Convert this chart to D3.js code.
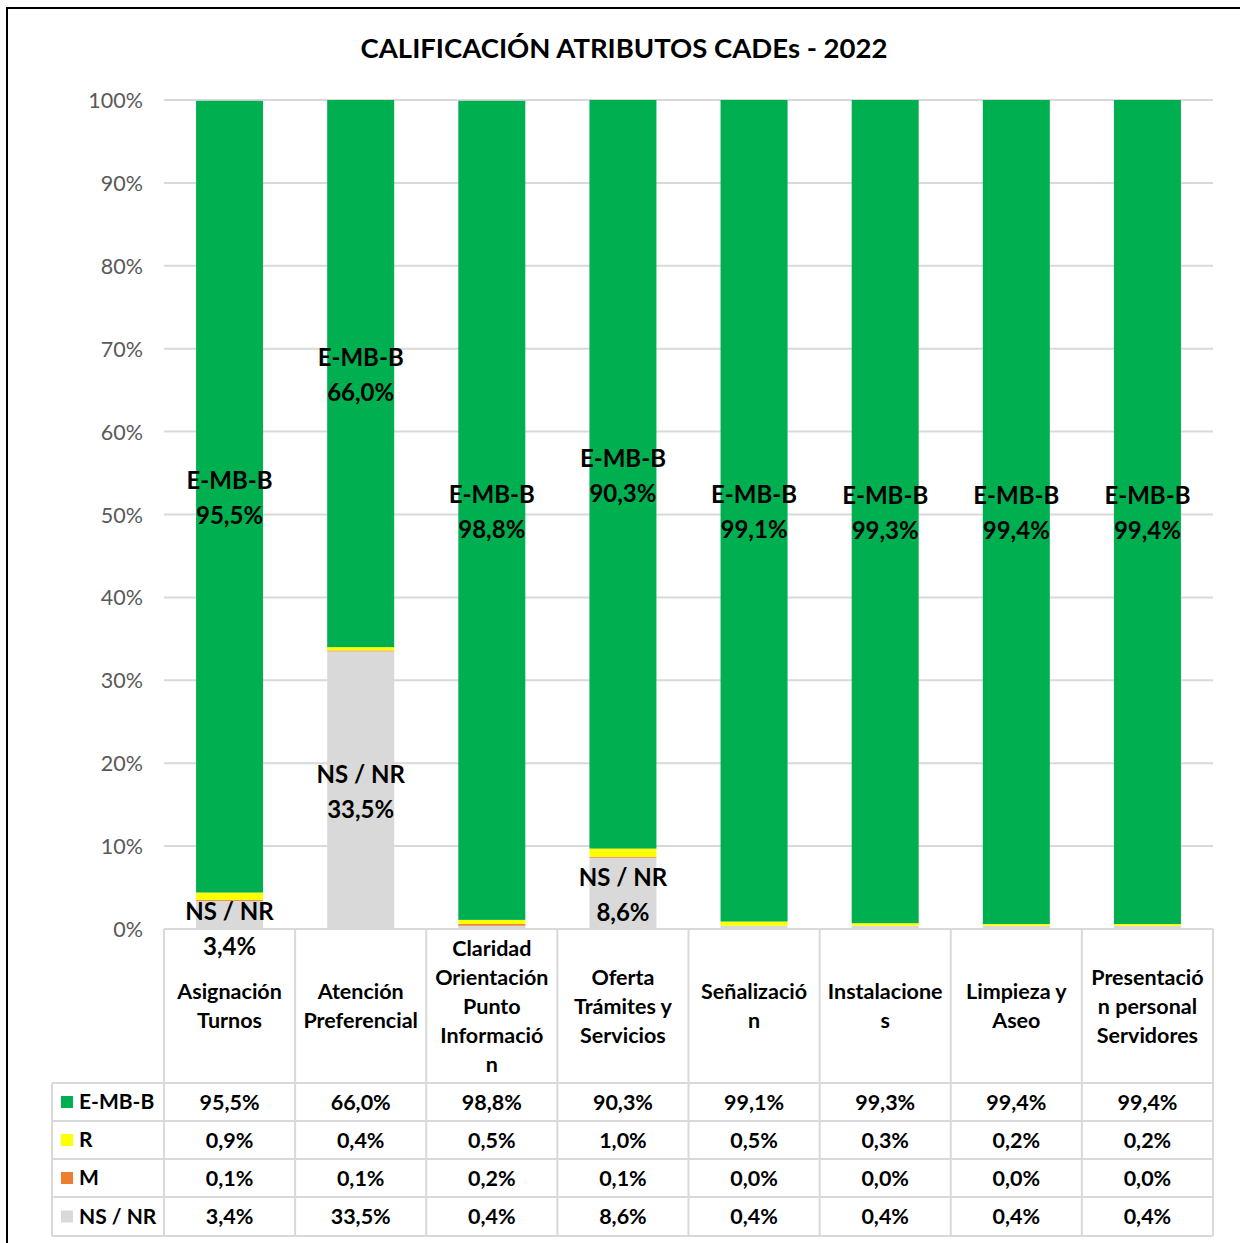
<!DOCTYPE html>
<html><head><meta charset="utf-8">
<script src="https://cdn.jsdelivr.net/npm/d3@7"></script>
<style>body{margin:0;background:#fff;}svg{display:block;font-family:Lato,"Open Sans",sans-serif;}</style>
</head><body>
<script>
const title = "CALIFICACIÓN ATRIBUTOS CADEs - 2022";
const categories = ["Asignación Turnos","Atención Preferencial","Claridad Orientación Punto Información","Oferta Trámites y Servicios","Señalización","Instalaciones","Limpieza y Aseo","Presentación personal Servidores"];
const categoryLines = [["Asignación","Turnos"],["Atención","Preferencial"],["Claridad","Orientación","Punto","Informació","n"],["Oferta","Trámites y","Servicios"],["Señalizació","n"],["Instalacione","s"],["Limpieza y","Aseo"],["Presentació","n personal","Servidores"]];
const seriesNames = ["E-MB-B","R","M","NS / NR"];
const seriesColors = ["#00B050","#FFFF00","#ED7D31","#D9D9D9"];
const embb = [95.5,66.0,98.8,90.3,99.1,99.3,99.4,99.4];
const r = [0.9,0.4,0.5,1.0,0.5,0.3,0.2,0.2];
const m = [0.1,0.1,0.2,0.1,0.0,0.0,0.0,0.0];
const nsnr = [3.4,33.5,0.4,8.6,0.4,0.4,0.4,0.4];
const yTicks = [0,10,20,30,40,50,60,70,80,90,100];
const labeledSeries = {"E-MB-B":[true,true,true,true,true,true,true,true],"NS / NR":[true,true,false,true,false,false,false,false]};

(function(){
const W=1240,H=1243;
const svg=d3.select("body").append("svg").attr("width",W).attr("height",H);
svg.append("rect").attr("width",W).attr("height",H).attr("fill","#fff");
svg.append("path").attr("d",`M7,${H} L7,8 L${W},8`).attr("fill","none").attr("stroke","#000").attr("stroke-width",2);

const pl=164,pr=1213,pt=100,pb=929;
const x=d3.scaleBand().domain(categories).range([pl,pr]).paddingInner(0).paddingOuter(0);
const y=d3.scaleLinear().domain([0,100]).range([pb,pt]);
const barW=67;
const fmt=v=>v.toFixed(1).replace(".",",")+"%";

svg.append("text").attr("x",624).attr("y",58).attr("text-anchor","middle").attr("font-size",27.5).attr("font-weight",700).attr("fill","#000").text(title);

svg.append("g").selectAll("line").data(yTicks).join("line")
 .attr("x1",pl).attr("x2",pr).attr("y1",d=>y(d)).attr("y2",d=>y(d))
 .attr("stroke","#D9D9D9").attr("stroke-width",2);
const yAxis=d3.axisLeft(y).tickValues(yTicks).tickFormat(d=>d+"%").tickSize(0).tickPadding(0);
const ga=svg.append("g").attr("transform",`translate(143,0)`).call(yAxis);
ga.select(".domain").remove();
ga.selectAll("text").attr("font-size",21.5).attr("fill","#595959").attr("font-family","Lato,sans-serif").attr("dy","0.35em");

const rows=categories.map((c,i)=>({cat:c,"NS / NR":nsnr[i],"M":m[i],"R":r[i],"E-MB-B":embb[i]}));
const stackOrder=["NS / NR","M","R","E-MB-B"];
const stack=d3.stack().keys(stackOrder)(rows);
const colorOf=k=>seriesColors[seriesNames.indexOf(k)];
svg.append("g").selectAll("g").data(stack).join("g").attr("fill",s=>colorOf(s.key))
 .selectAll("rect").data(s=>s).join("rect")
 .attr("x",d=>x(d.data.cat)+x.bandwidth()/2-barW/2).attr("width",barW)
 .attr("y",d=>y(d[1])).attr("height",d=>Math.max(0,y(d[0])-y(d[1])));

const lg=svg.append("g");
stack.forEach(s=>{
  const flags=labeledSeries[s.key]; if(!flags) return;
  s.forEach((d,i)=>{
    if(!flags[i]) return;
    let cy=(y(d[0])+y(d[1]))/2+1.5;
    if(d[1]-d[0]<5) cy=y(d[0]);
    const cx=x(d.data.cat)+x.bandwidth()/2;
    const t=lg.append("text").attr("x",cx).attr("text-anchor","middle").attr("font-size",24).attr("font-weight",700).attr("fill","#000");
    t.append("tspan").attr("x",cx).attr("y",cy-17.5).attr("dy","0.35em").text(s.key);
    t.append("tspan").attr("x",cx).attr("y",cy+17.5).attr("dy","0.35em").text(fmt(d.data[s.key]));
  });
});

const rowTops=[1083,1121,1159,1197,1236];
const tg=svg.append("g");
const gridC="#D9D9D9";
const bounds=categories.map(c=>x(c)).concat([pr]);
bounds.forEach(b=>tg.append("line").attr("x1",b).attr("x2",b).attr("y1",pb).attr("y2",rowTops[4]).attr("stroke",gridC).attr("stroke-width",2));
tg.append("line").attr("x1",52).attr("x2",52).attr("y1",rowTops[0]).attr("y2",rowTops[4]).attr("stroke",gridC).attr("stroke-width",2);
rowTops.forEach(rt=>tg.append("line").attr("x1",52).attr("x2",pr).attr("y1",rt).attr("y2",rt).attr("stroke",gridC).attr("stroke-width",2));
categories.forEach((c,i)=>{
  const lines=categoryLines[i];
  const cx=x(c)+x.bandwidth()/2;
  const cy=(pb+rowTops[0])/2;
  const t=tg.append("text").attr("text-anchor","middle").attr("font-size",21.5).attr("font-weight",700).attr("fill","#000");
  lines.forEach((l,j)=>t.append("tspan").attr("x",cx).attr("y",cy+(j-(lines.length-1)/2)*29).attr("dy","0.35em").text(l));
});
const seriesVals=[embb,r,m,nsnr];
seriesNames.forEach((n,k)=>{
  const cy=(rowTops[k]+rowTops[k+1])/2;
  tg.append("rect").attr("x",61).attr("y",cy-6).attr("width",12).attr("height",12).attr("fill",seriesColors[k]);
  tg.append("text").attr("x",79).attr("y",cy).attr("dy","0.35em").attr("font-size",21).attr("font-weight",700).attr("fill","#000").text(n);
  seriesVals[k].forEach((v,i)=>{
    tg.append("text").attr("x",x(categories[i])+x.bandwidth()/2).attr("y",cy).attr("dy","0.35em").attr("text-anchor","middle").attr("font-size",21.5).attr("font-weight",700).attr("fill","#000").text(fmt(v));
  });
});
})();
</script>
</body></html>
